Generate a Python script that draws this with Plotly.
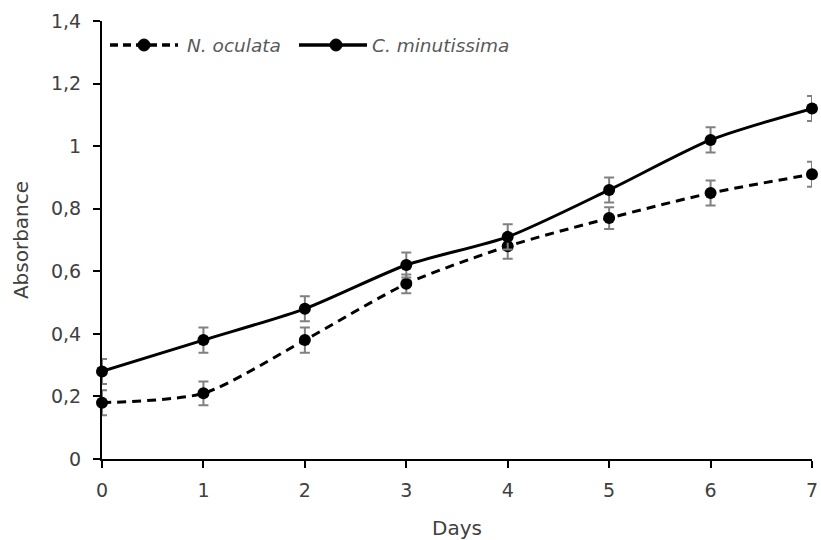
import plotly.graph_objects as go

days = [0, 1, 2, 3, 4, 5, 6, 7]
n_oculata = [0.18, 0.21, 0.38, 0.56, 0.68, 0.77, 0.85, 0.91]
n_oculata_err = [0.04, 0.038, 0.04, 0.03, 0.04, 0.035, 0.04, 0.04]
c_minutissima = [0.28, 0.38, 0.48, 0.62, 0.71, 0.86, 1.02, 1.12]
c_minutissima_err = [0.04, 0.04, 0.04, 0.04, 0.04, 0.04, 0.04, 0.04]
series_names = ["N. oculata", "C. minutissima"]

text_color = "#404040"
legend_color = "#595959"
font_family = "DejaVu Sans"

W, H = 821, 540
L, R, T, B = 102, 9, 21, 81
plot_w = W - L - R
plot_h = H - T - B


def px_x(p):
    return (p - L) / plot_w


def px_y(p):
    return (H - B - p) / plot_h


fig = go.Figure()
dash_style = "9px,6px"
fig.add_trace(go.Scatter(
    x=days, y=n_oculata, name=series_names[0], mode="lines+markers",
    line=dict(color="black", width=3, dash=dash_style, shape="spline", smoothing=0.7),
    marker=dict(color="black", size=12, symbol="circle"),
    error_y=dict(type="data", array=n_oculata_err, color="#808080", thickness=2, width=5),
    cliponaxis=False, showlegend=False,
))
fig.add_trace(go.Scatter(
    x=days, y=c_minutissima, name=series_names[1], mode="lines+markers",
    line=dict(color="black", width=3, shape="spline", smoothing=0.7),
    marker=dict(color="black", size=12, symbol="circle"),
    error_y=dict(type="data", array=c_minutissima_err, color="#808080", thickness=2, width=5),
    cliponaxis=False, showlegend=False,
))

# manual legend (line swatch, marker, label)
legend_y = px_y(45)
shapes = []
annotations = []
legend_items = [
    (series_names[0], "8px,5px", 110, 178, 144, 185),
    (series_names[1], "solid", 299, 367, 336, 370),
]
for name, dash, x0, x1, xm, xt in legend_items:
    shapes.append(dict(type="line", xref="paper", yref="paper",
                       x0=px_x(x0), x1=px_x(x1), y0=legend_y, y1=legend_y,
                       line=dict(color="black", width=3.5, dash=dash)))
    shapes.append(dict(type="circle", xref="paper", yref="paper",
                       xsizemode="pixel", ysizemode="pixel",
                       xanchor=px_x(xm), yanchor=legend_y,
                       x0=-6, x1=6, y0=-6, y1=6,
                       fillcolor="black", line=dict(color="black", width=1)))
    annotations.append(dict(text="<i>%s</i>" % name, xref="paper", yref="paper",
                            x=px_x(xt), y=legend_y, xanchor="left", yanchor="middle",
                            showarrow=False, font=dict(size=18.5, color=legend_color,
                                                       family=font_family)))

fig.update_layout(
    width=W, height=H,
    margin=dict(l=L, r=R, t=T, b=B),
    paper_bgcolor="white", plot_bgcolor="white",
    separators=",.",
    font=dict(family=font_family, size=19, color=text_color),
    showlegend=False,
    shapes=shapes,
    annotations=annotations,
    xaxis=dict(range=[0, 7], dtick=1, showgrid=False, zeroline=False,
               showline=True, linecolor="black", linewidth=2,
               ticks="outside", ticklen=7, tickwidth=2, tickcolor="black",
               ticklabelstandoff=6, automargin=False,
               title=dict(text="Days", standoff=26, font=dict(size=20)),
               tickfont=dict(size=19)),
    yaxis=dict(range=[0, 1.4], dtick=0.2, showgrid=False, zeroline=False,
               showline=True, linecolor="black", linewidth=2,
               ticks="outside", ticklen=7, tickwidth=2, tickcolor="black",
               ticklabelstandoff=8, automargin=False,
               title=dict(text="Absorbance", standoff=17, font=dict(size=20)),
               tickfont=dict(size=19)),
)

fig.write_html("out.html")
